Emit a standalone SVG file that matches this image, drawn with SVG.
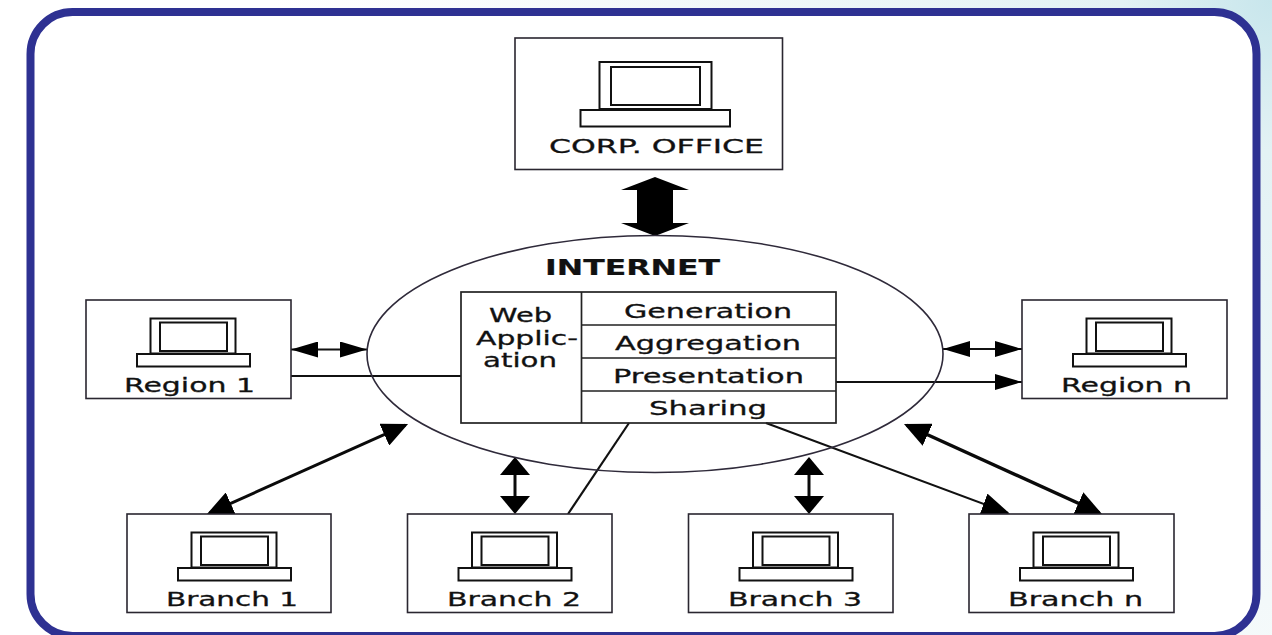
<svg xmlns="http://www.w3.org/2000/svg" width="1272" height="635" viewBox="0 0 1272 635">
<style>
.box{fill:#fff;stroke:#2a2630;stroke-width:1.6}
.scr{fill:#fff;stroke:#111;stroke-width:2}
.t{font-family:"DejaVu Sans",sans-serif;font-size:20px;fill:#111;stroke:#111;stroke-width:.3;text-anchor:middle}
.b{font-weight:bold;font-size:20.500px;stroke-width:.2}
.ln{fill:none;stroke:#111;stroke-width:1.8}
.th{fill:none;stroke:#0a0a0a;stroke-width:3}
.cell{fill:none;stroke:#222;stroke-width:1.7}
</style>
<defs>
<radialGradient id="bg" gradientUnits="userSpaceOnUse" cx="1272" cy="0" r="1000">
<stop offset="0" stop-color="#c8e6ec"/><stop offset="0.15" stop-color="#e3f2f4"/><stop offset="0.6" stop-color="#f3f9fa"/><stop offset="1" stop-color="#fff"/>
</radialGradient>
<marker id="h" markerUnits="userSpaceOnUse" viewBox="0 0 27 16" markerWidth="27" markerHeight="16" refX="27" refY="8" orient="auto-start-reverse"><path d="M0 0L27 8L0 16Z" fill="#000"/></marker>
<marker id="v" markerUnits="userSpaceOnUse" viewBox="0 0 18 30" markerWidth="18" markerHeight="30" refX="15" refY="15" orient="auto-start-reverse"><path d="M0 0L18 15L0 30Z" fill="#000"/></marker>
<marker id="d" markerUnits="userSpaceOnUse" viewBox="0 0 26 24" markerWidth="26" markerHeight="24" refX="23" refY="12" orient="auto-start-reverse"><path d="M0 0L26 12L0 24Z" fill="#000"/></marker>
<marker id="s" markerUnits="userSpaceOnUse" viewBox="0 0 28 22" markerWidth="28" markerHeight="22" refX="26" refY="11" orient="auto-start-reverse"><path d="M0 0L28 11L0 22Z" fill="#000"/></marker>
<g id="pc">
<rect x="64.500" y="18.500" width="85" height="35" class="scr"/>
<rect x="74" y="22.500" width="67" height="28.500" class="scr"/>
<rect x="51" y="54" width="113" height="12.500" class="scr"/>
</g>
</defs>
<rect width="1272" height="635" fill="url(#bg)"/>
<rect id="frame" x="30.500" y="12" width="1226" height="624" rx="42" fill="#fff" stroke="#2e3192" stroke-width="8"/>
<g id="connectors">
<path d="M655 177L689 190H673V223H689L655 236L621 223H637V190H621Z" fill="#000"/>
<path d="M291 349.500H367" class="ln" marker-start="url(#h)" marker-end="url(#h)"/>
<path d="M291 376H461" class="ln"/>
<path d="M943 349H1022" class="ln" marker-start="url(#h)" marker-end="url(#h)"/>
<path d="M836 382H1022" class="ln" marker-end="url(#h)"/>
<path d="M405.300 425.200L209.700 512.800" class="th" marker-start="url(#d)" marker-end="url(#d)"/>
<path d="M515 460V511" class="th" marker-start="url(#v)" marker-end="url(#v)"/>
<path d="M809 460V511" class="th" marker-start="url(#v)" marker-end="url(#v)"/>
<path d="M629 423L568 514" class="ln" style="stroke-width:2.200"/>
<path d="M766 423L1008 513" class="ln" style="stroke-width:2" marker-end="url(#s)"/>
<path d="M906.700 425.200L1099.300 512.800" class="th" style="stroke-width:3.400" marker-start="url(#d)" marker-end="url(#d)"/>
</g>
<g id="internet">
<ellipse cx="655" cy="354" rx="288" ry="118.500" fill="none" stroke="#2f2a3a" stroke-width="1.600"/>
<text x="632.500" y="275" class="t b" textLength="175" lengthAdjust="spacingAndGlyphs">INTERNET</text>
</g>
<g id="web-application">
<rect x="461" y="292" width="375" height="131" fill="#fff" class="cell"/>
<path d="M581.500 292V423M581.500 325H836M581.500 358H836M581.500 391H836" class="cell"/>
<text x="520.500" y="322" class="t" textLength="63" lengthAdjust="spacingAndGlyphs">Web</text>
<text x="527" y="345" class="t" textLength="102" lengthAdjust="spacingAndGlyphs">Applic-</text>
<text x="520" y="367" class="t" textLength="74" lengthAdjust="spacingAndGlyphs">ation</text>
<text x="708" y="317.500" class="t" textLength="168" lengthAdjust="spacingAndGlyphs">Generation</text>
<text x="708" y="350" class="t" textLength="186" lengthAdjust="spacingAndGlyphs">Aggregation</text>
<text x="708.500" y="383" class="t" textLength="191" lengthAdjust="spacingAndGlyphs">Presentation</text>
<text x="708" y="415" class="t" textLength="118" lengthAdjust="spacingAndGlyphs">Sharing</text>
</g>
<g id="corp-office">
<rect x="515" y="38" width="267.500" height="131.500" class="box"/>
<rect x="599.500" y="62" width="112" height="47" class="scr"/>
<rect x="611" y="67" width="89" height="38" class="scr"/>
<rect x="580.500" y="110" width="149.500" height="16.500" class="scr"/>
<text x="656.500" y="153" class="t" textLength="215" lengthAdjust="spacingAndGlyphs">CORP. OFFICE</text>
</g>
<g id="region-1">
<rect x="86" y="300" width="205" height="98.500" class="box"/>
<use href="#pc" x="86" y="300"/>
<text x="189.500" y="392" class="t" textLength="131" lengthAdjust="spacingAndGlyphs">Region 1</text>
</g>
<g id="region-n">
<rect x="1022" y="300" width="205" height="98.500" class="box"/>
<use href="#pc" x="1022" y="300"/>
<text x="1126.500" y="392" class="t" textLength="131" lengthAdjust="spacingAndGlyphs">Region n</text>
</g>
<g id="branch-1">
<rect x="127" y="514" width="204" height="98.500" class="box"/>
<use href="#pc" x="127" y="514"/>
<text x="232" y="605.500" class="t" textLength="132" lengthAdjust="spacingAndGlyphs">Branch 1</text>
</g>
<g id="branch-2">
<rect x="407.500" y="514" width="204.500" height="98.500" class="box"/>
<use href="#pc" x="407.500" y="514"/>
<text x="514" y="605.500" class="t" textLength="134" lengthAdjust="spacingAndGlyphs">Branch 2</text>
</g>
<g id="branch-3">
<rect x="688.500" y="514" width="204.500" height="98.500" class="box"/>
<use href="#pc" x="688.500" y="514"/>
<text x="795" y="605.500" class="t" textLength="134" lengthAdjust="spacingAndGlyphs">Branch 3</text>
</g>
<g id="branch-n">
<rect x="969" y="514" width="205" height="98.500" class="box"/>
<use href="#pc" x="969" y="514"/>
<text x="1075.500" y="605.500" class="t" textLength="135" lengthAdjust="spacingAndGlyphs">Branch n</text>
</g>
</svg>
